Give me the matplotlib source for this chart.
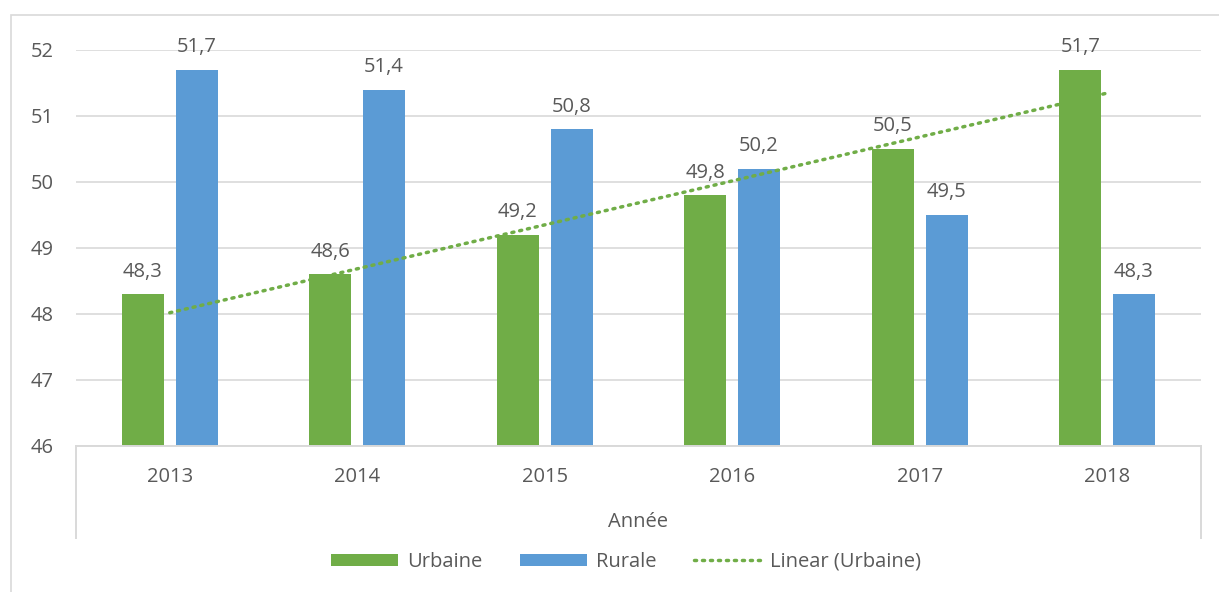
import matplotlib

matplotlib.use("Agg")
import matplotlib.pyplot as plt
import numpy as np
from matplotlib.lines import Line2D
from matplotlib.patches import Rectangle

years = ["2013", "2014", "2015", "2016", "2017", "2018"]
urbaine = [48.3, 48.6, 49.2, 49.8, 50.5, 51.7]
rurale = [51.7, 51.4, 50.8, 50.2, 49.5, 48.3]
yticks = [46, 47, 48, 49, 50, 51, 52]

GREEN = "#70AD47"
BLUE = "#5B9BD5"
TEXT = "#595959"
GRID = "#D9D9D9"
FS = 14.5

plt.rcParams["font.family"] = ["Open Sans", "DejaVu Sans"]

W, H = 1219, 592
fig = plt.figure(figsize=(W / 100, H / 100), dpi=100)
ax = fig.add_axes([76 / W, 1 - 446 / H, (1201 - 76) / W, (446 - 50) / H])

x = np.arange(len(years))
width = 0.224
off = 0.143
bars_u = ax.bar(x - off, urbaine, width, color=GREEN, zorder=2, label="Urbaine")
bars_r = ax.bar(x + off, rurale, width, color=BLUE, zorder=2, label="Rurale")

# linear trendline through the urbaine series
slope, icpt = np.polyfit(x, urbaine, 1)
trend, = ax.plot(x, slope * x + icpt, color=GREEN, lw=2.5,
                 linestyle=(0, (0.6, 1.7)), dash_capstyle="round",
                 zorder=3, label="Linear (Urbaine)")

for bars, vals in ((bars_u, urbaine), (bars_r, rurale)):
    for b, v in zip(bars, vals):
        ax.annotate(f"{v:.1f}".replace(".", ","),
                    (b.get_x() + b.get_width() / 2, v),
                    xytext=(0, 9), textcoords="offset points",
                    ha="center", va="bottom", fontsize=FS, color=TEXT,
                    clip_on=False)

ax.set_xlim(-0.5, len(years) - 0.5)
ax.set_ylim(46, 52)
ax.set_yticks(yticks)
ax.set_yticklabels([str(t) for t in yticks])
ax.set_xticks(x)
ax.set_xticklabels(years)
ax.tick_params(axis="both", length=0, labelsize=FS, labelcolor=TEXT)
ax.tick_params(axis="x", pad=15)
ax.tick_params(axis="y", pad=16)
ax.grid(axis="y", color=GRID, lw=1.2, zorder=0)
for s in ("top", "right", "left"):
    ax.spines[s].set_visible(False)
ax.spines["bottom"].set_color(GRID)
ax.spines["bottom"].set_linewidth(1.4)

# category axis box sides
for px in (76, 1201):
    fig.add_artist(Line2D([px / W, px / W], [1 - 446 / H, 1 - 538 / H],
                          color=GRID, lw=1.4))

fig.text(638 / W, 1 - 522 / H, "Année", ha="center", va="center",
         fontsize=FS, color=TEXT)

# chart border
fig.add_artist(Rectangle((11 / W, -0.01), 1.0, 1 - 15 / H + 0.01,
                         transform=fig.transFigure, fill=False,
                         edgecolor=GRID, lw=1.2))

fig.legend(handles=[bars_u, bars_r, trend], loc="center",
           bbox_to_anchor=(626 / W, 1 - 562 / H), ncol=3, frameon=False,
           fontsize=FS, labelcolor=TEXT, handlelength=3.35,
           handleheight=0.6, handletextpad=0.45, columnspacing=1.85)

fig.savefig("out.png", dpi=100)
